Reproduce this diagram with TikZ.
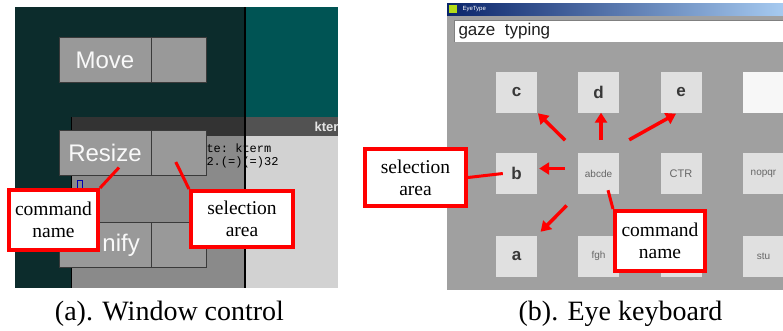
\documentclass[tikz,border=0pt]{standalone}
\usepackage{fontspec}
\setmainfont{Liberation Serif}
\setsansfont{Liberation Sans}
\setmonofont{Liberation Mono}
\usetikzlibrary{positioning, arrows.meta, calc}
\definecolor{calloutred}{RGB}{255,0,0}
\definecolor{deskdark}{RGB}{12,44,44}
\definecolor{deskteal}{RGB}{0,84,84}
\definecolor{btngray}{RGB}{153,153,153}
\definecolor{btnedge}{RGB}{58,58,58}
\definecolor{termgray}{RGB}{138,138,138}
\definecolor{termlight}{RGB}{210,210,210}
\definecolor{panelgray}{RGB}{160,160,160}
\definecolor{keygray}{RGB}{224,224,224}
\definecolor{titleblue}{RGB}{10,36,106}
\definecolor{titlelight}{RGB}{166,202,240}
\tikzset{
  callout/.style={draw=calloutred, line width=4pt, fill=white, align=center, inner sep=0pt, font=\fontsize{19.5}{22}\selectfont},
  callline/.style={calloutred, line width=3pt},
  gazearrow/.style={calloutred, line width=3.5pt, -{Triangle[length=10pt, width=12pt]}},
  eyekey/.style={fill=keygray, minimum size=41pt, inner sep=0pt, text=black!78, font=\sffamily\bfseries\fontsize{17}{17}\selectfont},
  smallkey/.style={eyekey, text=black!60, font=\sffamily\fontsize{10}{10}\selectfont},
  wmname/.style={fill=btngray, draw=btnedge, line width=0.8pt, minimum width=92pt, minimum height=45pt, inner sep=0pt, text=white!95!gray, font=\sffamily\fontsize{24}{24}\selectfont},
  wmsel/.style={fill=btngray, draw=btnedge, line width=0.8pt, minimum width=55pt, minimum height=45pt, inner sep=0pt}
}
\begin{document}
\begin{tikzpicture}[x=1pt, y=-1pt]
\useasboundingbox (0,0) rectangle (783,330);

% Window control
\begin{scope}
\clip (15,7) rectangle (338,288);
\fill[deskdark] (15,7) rectangle (245,288);
\fill[deskteal] (245,7) rectangle (338,117);
\fill[black!80] (71,117) rectangle (245,136);
\fill[black!68] (245,117) rectangle (338,136);
\fill[termgray] (71,136) rectangle (245,288);
\fill[termlight] (245,136) rectangle (338,288);
\draw[black, line width=1pt] (71,117) -- (71,288);
\draw[black, line width=1.5pt] (245,7) -- (245,288);
\node[anchor=west, text=black!10, font=\sffamily\bfseries\fontsize{13}{13}\selectfont] (ktitle) at (311,127) {kterm};
\node[anchor=west, font=\ttfamily\fontsize{12}{12}\selectfont] (kline1) at (203,148) {te: kterm};
\node[anchor=west, font=\ttfamily\fontsize{12}{12}\selectfont] (kline2) at (203,162) {2.(=)(=)32};
\draw[blue!70!black, line width=0.8pt] (77,180) rectangle (82,188);
\end{scope}

\node[wmname] (mvname) at (105,60) {Move};
\node[wmsel, right=0pt of mvname] (mvsel) {};
\node[wmname] (rzname) at (105,152.5) {Resize};
\node[wmsel, right=0pt of rzname] (rzsel) {};
\node[wmname] (icname) at (105,245) {};
\node[wmsel, right=0pt of icname] (icsel) {};
\node[anchor=east, inner sep=0pt, text=white!95!gray, font=\sffamily\fontsize{24}{24}\selectfont] (ictext) at (140,245) {nify};

\node[callout, minimum width=89pt, minimum height=60pt] (cmdL) at (53.5,220) {command\\name};
\node[callout, minimum width=102pt, minimum height=56pt] (selL) at (242,219) {selection\\area};
\coordinate (rzpt) at ($(rzname.center)+(14,15)$);
\coordinate (rzselpt) at ($(rzsel.center)+(-3.5,9.5)$);
\draw[callline] (rzpt) -- (cmdL.north east);
\draw[callline] (rzselpt) -- (selL.north west);

% Eye keyboard
\begin{scope}
\clip (447,3) rectangle (783,290);
\fill[panelgray] (447,3) rectangle (783,290);
\shade[left color=titleblue, right color=titlelight] (447,3) rectangle (783,15);
\fill[yellow!70!green] (449,5) rectangle (457,13);
\node[anchor=west, text=white, font=\sffamily\fontsize{6}{6}\selectfont] (wtitle) at (459,9) {EyeType};
\fill[white] (454,20) rectangle (783,42);
\draw[black!50, line width=1pt] (454,42) -- (454,20) -- (783,20);
\node[anchor=west, text=black!88, font=\sffamily\fontsize{17}{17}\selectfont] (gaze) at (455,31) {gaze~~typing};

\node[eyekey] (kc) at (516.5,92) {c};
\node[eyekey] (kd) at (598.5,92) {d};
\node[eyekey] (ke) at (681,92) {e};
\node[eyekey, fill=white!94!gray] (kblank) at (763.5,92) {};
\node[eyekey] (kb) at (516.5,173.5) {b};
\node[smallkey] (kabc) at (598.5,173.5) {abcde};
\node[smallkey, font=\sffamily\fontsize{11}{11}\selectfont] (kctr) at (681,173.5) {CTR};
\node[smallkey] (knop) at (763.5,173.5) {nopqr};
\node[eyekey] (ka) at (516.5,256) {a};
\node[smallkey] (kfgh) at (598.5,256) {fgh};
\node[smallkey] (kijk) at (681,256) {};
\node[smallkey] (kstu) at (763.5,256) {stu};
\end{scope}

\draw[gazearrow, shorten <=18pt, shorten >=1pt] (kabc) -- (kc);
\draw[gazearrow] ($(kabc.north)+(2.5,-13)$) -- ($(kd.south)+(2.5,0)$);
\draw[gazearrow] ($(kabc.north east)+(10,-13)$) -- ($(ke.south)+(-5,1)$);
\draw[gazearrow] ($(kabc.west)+(-13,-5)$) -- ($(kb.east)+(2,-5)$);
\draw[gazearrow, shorten <=16pt, shorten >=5pt] (kabc) -- (ka);

\node[callout, minimum width=101pt, minimum height=57pt] (selR) at (415.5,177.5) {selection\\area};
\node[callout, minimum width=90pt, minimum height=60pt] (cmdR) at (660,241) {command\\name};
\coordinate (abcpt) at ($(kabc.south)+(9.5,-4)$);
\draw[callline] (selR.east) -- ($(kb.west)+(7,0)$);
\draw[callline] (abcpt) -- (cmdR.north west);

% Captions
\node[anchor=base, font=\fontsize{28}{30}\selectfont] (capa) at (169.5,320) {(a). Window control};
\node[anchor=base, font=\fontsize{28}{30}\selectfont] (capb) at (620.5,320) {(b). Eye keyboard};
\end{tikzpicture}
\end{document}
